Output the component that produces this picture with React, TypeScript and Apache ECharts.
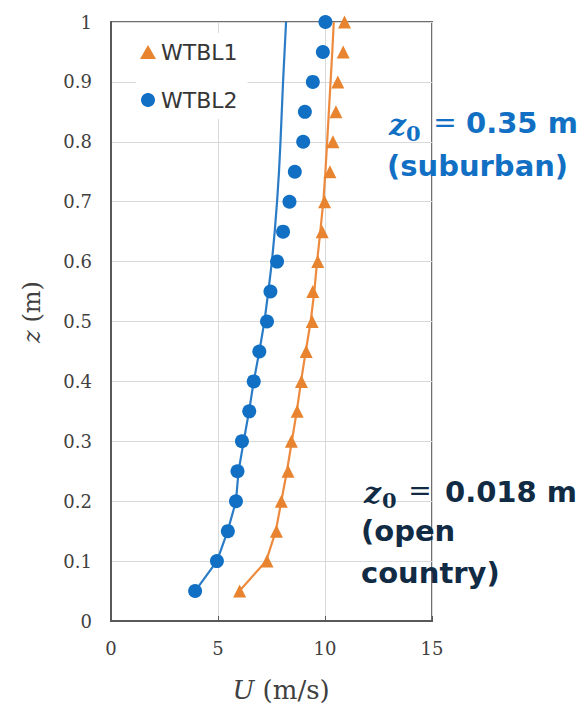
import React, { useEffect, useRef } from "react";
import * as echarts from "echarts";

const zLevels = [0.05, 0.1, 0.15, 0.2, 0.25, 0.3, 0.35, 0.4, 0.45, 0.5, 0.55, 0.6, 0.65, 0.7, 0.75, 0.8, 0.85, 0.9, 0.95, 1.0];
const wtbl1U = [6.01, 7.29, 7.73, 7.96, 8.27, 8.43, 8.7, 8.9, 9.12, 9.4, 9.43, 9.66, 9.87, 9.98, 10.23, 10.37, 10.51, 10.6, 10.85, 10.91];
const wtbl2U = [3.93, 4.95, 5.46, 5.84, 5.91, 6.12, 6.46, 6.67, 6.93, 7.29, 7.45, 7.76, 8.04, 8.34, 8.59, 8.98, 9.06, 9.43, 9.9, 10.02];
const fit1U = [6.0, 7.25, 7.7, 7.96, 8.22, 8.45, 8.68, 8.88, 9.1, 9.33, 9.5, 9.63, 9.78, 9.92, 10.02, 10.1, 10.18, 10.26, 10.34, 10.41];
const fit2U = [3.93, 4.95, 5.45, 5.84, 5.96, 6.2, 6.45, 6.67, 6.93, 7.17, 7.35, 7.52, 7.65, 7.76, 7.85, 7.92, 7.98, 8.04, 8.11, 8.18];
const seriesNames = ["WTBL1", "WTBL2"];
const xTicks = { min: 0, max: 15, interval: 5 };
const yTicks = { min: 0, max: 1, interval: 0.1 };

const ORANGE = "#e8832f";
const BLUE = "#1170c3";
const DARK = "#112b45";

function pairs(us: number[]) {
  return us.map((u, i) => [u, zLevels[i]]);
}

export default function App() {
  const ref = useRef<HTMLDivElement>(null);
  useEffect(() => {
    if (!ref.current) return;
    const chart = echarts.init(ref.current, null, { renderer: "svg" });
    const serif = "DejaVu Serif";
    const sans = "DejaVu Sans";
    chart.setOption({
      animation: false,
      backgroundColor: "#ffffff",
      grid: {
        left: 111,
        right: 152,
        top: 22,
        bottom: 89,
        show: true,
        borderColor: "#6e6e6e",
        borderWidth: 2,
        backgroundColor: "transparent",
      },
      legend: {
        data: seriesNames,
        orient: "vertical",
        left: 136,
        top: 33,
        itemGap: 26,
        itemWidth: 16,
        itemHeight: 14,
        padding: [8, 10, 8, 4],
        backgroundColor: "#ffffff",
        textStyle: { fontFamily: sans, fontSize: 22, color: "#363636" },
      },
      xAxis: {
        type: "value",
        min: xTicks.min,
        max: xTicks.max,
        interval: xTicks.interval,
        axisLine: { show: true, lineStyle: { color: "#595959", width: 2 } },
        axisTick: { show: true, inside: true, length: 5, lineStyle: { color: "#595959" } },
        axisLabel: { fontFamily: serif, fontSize: 18, color: "#404040", margin: 18 },
        splitLine: { show: true, lineStyle: { color: "#d9d9d9", width: 1 } },
      },
      yAxis: {
        type: "value",
        min: yTicks.min,
        max: yTicks.max,
        interval: yTicks.interval,
        axisLine: { show: true, lineStyle: { color: "#595959", width: 2 } },
        axisTick: { show: false },
        axisLabel: {
          fontFamily: serif,
          fontSize: 18,
          color: "#404040",
          margin: 19,
          formatter: (v: number) => String(parseFloat(v.toFixed(1))),
        },
        splitLine: { show: true, lineStyle: { color: "#d9d9d9", width: 1 } },
      },
      series: [
        {
          name: "fit1",
          type: "line",
          data: pairs(fit1U),
          showSymbol: false,
          lineStyle: { color: "#ed8a3d", width: 2.2 },
          itemStyle: { color: "#ed8a3d" },
          z: 2,
        },
        {
          name: "fit2",
          type: "line",
          data: pairs(fit2U),
          showSymbol: false,
          lineStyle: { color: "#2a7cc6", width: 2.2 },
          itemStyle: { color: "#2a7cc6" },
          z: 2,
        },
        {
          name: seriesNames[0],
          type: "scatter",
          data: pairs(wtbl1U),
          symbol: "triangle",
          symbolSize: 13,
          itemStyle: { color: ORANGE, opacity: 1 },
          z: 3,
        },
        {
          name: seriesNames[1],
          type: "scatter",
          data: pairs(wtbl2U),
          symbol: "circle",
          symbolSize: 14,
          itemStyle: { color: BLUE, opacity: 1 },
          z: 4,
        },
      ],
      graphic: [
        {
          type: "text",
          x: 32,
          y: 312,
          rotation: Math.PI / 2,
          style: {
            text: "{i|z} (m)",
            fontFamily: serif,
            fontSize: 24,
            fill: "#404040",
            align: "center",
            verticalAlign: "middle",
            rich: { i: { fontFamily: serif, fontStyle: "italic", fontSize: 24, fill: "#404040" } },
          },
        },
        {
          type: "text",
          x: 281,
          y: 690,
          style: {
            text: "{i|U} (m/s)",
            fontFamily: serif,
            fontSize: 26,
            fill: "#404040",
            align: "center",
            verticalAlign: "middle",
            rich: { i: { fontFamily: serif, fontStyle: "italic", fontSize: 26, fill: "#404040" } },
          },
        },
        // Blue annotation
        { type: "text", x: 389, y: 124, z: 1, style: { text: "z", font: "italic bold 30px 'DejaVu Serif'", fill: BLUE, align: "left", verticalAlign: "middle" } },
        { type: "text", x: 406, y: 133, z: 1, style: { text: "0", font: "bold 21px 'DejaVu Serif'", fill: BLUE, align: "left", verticalAlign: "middle" } },
        { type: "text", x: 445, y: 122, z: 1, style: { text: "=", font: "28px 'DejaVu Sans'", fill: BLUE, align: "center", verticalAlign: "middle" } },
        { type: "text", x: 466, y: 123, z: 1, style: { text: "0.35 m", font: "bold 29px 'DejaVu Sans'", fill: BLUE, align: "left", verticalAlign: "middle" } },
        { type: "text", x: 387, y: 166, z: 1, style: { text: "(suburban)", font: "bold 29px 'DejaVu Sans'", fill: BLUE, align: "left", verticalAlign: "middle" } },
        // Dark annotation
        { type: "text", x: 364, y: 492, z: 1, style: { text: "z", font: "italic bold 30px 'DejaVu Serif'", fill: DARK, align: "left", verticalAlign: "middle" } },
        { type: "text", x: 382, y: 500, z: 1, style: { text: "0", font: "bold 21px 'DejaVu Serif'", fill: DARK, align: "left", verticalAlign: "middle" } },
        { type: "text", x: 420, y: 490, z: 1, style: { text: "=", font: "28px 'DejaVu Sans'", fill: DARK, align: "center", verticalAlign: "middle" } },
        { type: "text", x: 445, y: 492, z: 1, style: { text: "0.018 m", font: "bold 29px 'DejaVu Sans'", fill: DARK, align: "left", verticalAlign: "middle" } },
        { type: "text", x: 361, y: 531, z: 1, style: { text: "(open", font: "bold 29px 'DejaVu Sans'", fill: DARK, align: "left", verticalAlign: "middle" } },
        { type: "text", x: 361, y: 573, z: 1, style: { text: "country)", font: "bold 29px 'DejaVu Sans'", fill: DARK, align: "left", verticalAlign: "middle" } },
      ],
    });
    return () => chart.dispose();
  }, []);
  return (
    <div
      ref={ref}
      style={{ position: "fixed", left: 0, top: 0, width: 584, height: 710 }}
    />
  );
}
